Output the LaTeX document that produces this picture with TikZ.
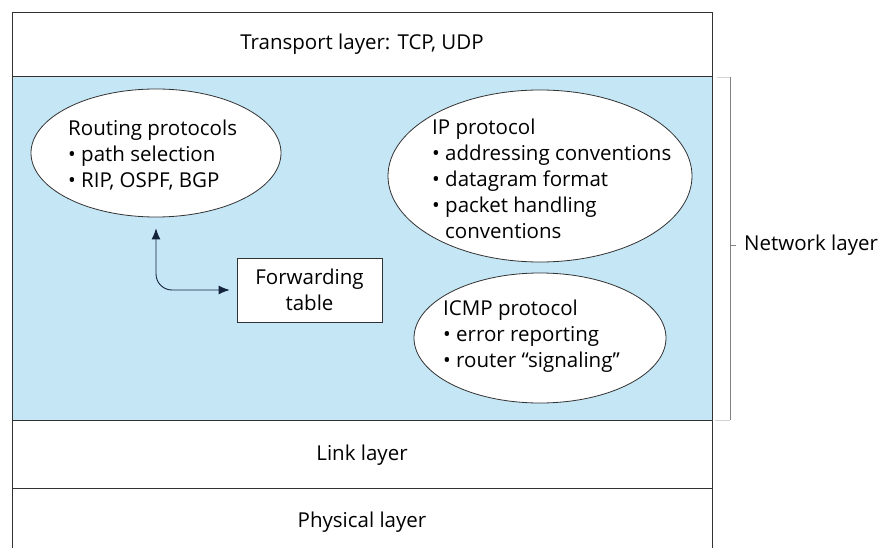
\documentclass[tikz,border=0pt]{standalone}
\usepackage{fontspec}
\setmainfont{Open Sans}
\usetikzlibrary{arrows.meta,shapes.geometric}
\definecolor{NetClr}{RGB}{196,230,245}
\definecolor{LineClr}{RGB}{50,50,50}
\definecolor{ArrowClr}{RGB}{20,35,60}

\begin{document}
\begin{tikzpicture}[x=1pt,y=-1pt,font=\fontsize{20.5}{26}\selectfont,
  proto/.style={ellipse,draw=LineClr,fill=white,line width=.8pt,inner sep=0pt},
  txt/.style={align=left,anchor=west,inner sep=0pt},
  layer/.style={inner sep=0pt}]
\useasboundingbox (0,0) rectangle (886,548);

\fill[NetClr] (12,76) rectangle (712,420);
\draw[LineClr,line width=.8pt] (12,548) -- (12,12) -- (712,12) -- (712,548);
\draw[LineClr,line width=.8pt] (12,76) -- (712,76) (12,420) -- (712,420) (12,488) -- (712,488);

\node[layer] (transport) at (362,44) {Transport layer: TCP, UDP};
\node[layer] (link) at (362,455) {Link layer};
\node[layer] (phys) at (362,522) {Physical layer};

\node[proto,minimum width=250,minimum height=128] (rout) at (156,153) {};
\node[txt] (routtxt) at (68,155) {Routing protocols\\• path selection\\• RIP, OSPF, BGP};

\node[proto,minimum width=304,minimum height=172] (ip) at (540,176) {};
\node[txt] (iptxt) at (432,179) {IP protocol\\• addressing conventions\\• datagram format\\• packet handling\\\hphantom{• }conventions};

\node[proto,minimum width=252,minimum height=130] (icmp) at (540,338) {};
\node[txt] (icmptxt) at (443,336) {ICMP protocol\\• error reporting\\• router “signaling”};

\node[draw=LineClr,fill=white,line width=.8pt,minimum width=145,minimum height=64,
  align=center,inner sep=0pt] (fwd) at (309.5,290) {Forwarding\\table};

\draw[{Latex[length=11pt,width=9pt]}-{Latex[length=11pt,width=9pt]},ArrowClr,line width=.9pt,
  rounded corners=16pt,shorten <=11pt,shorten >=7pt] (rout.south) |- (fwd.west);

\draw[gray!35] (717,77) -- (730,77) (730,420) -- (715,420);
\draw[gray] (730,77) -- (730,420);
\node[layer,anchor=west] (net) at (744,245) {Network layer};
\coordinate (brk) at (730,245);
\draw[gray] (brk) -- ([xshift=-8pt]net.west);
\end{tikzpicture}
\end{document}
